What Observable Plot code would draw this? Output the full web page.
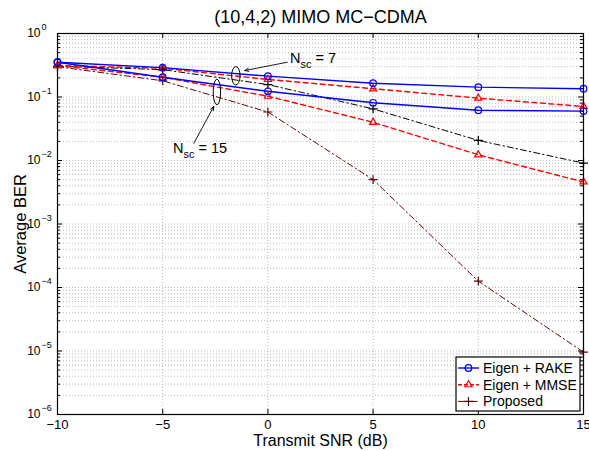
<!DOCTYPE html>
<html><head><meta charset="utf-8">
<script src="https://cdn.jsdelivr.net/npm/d3@7"></script>
<script src="https://cdn.jsdelivr.net/npm/@observablehq/plot@0.6"></script>
<style>
body{margin:0;background:#fff;}
#chart svg{display:block;}
</style></head><body><div id="chart"></div>
<script>
// ---- data ----
const snr = [-10, -5, 0, 5, 10, 15];
const rakeNsc7  = [0.353, 0.290, 0.213, 0.165, 0.143, 0.135];
const rakeNsc15 = [0.353, 0.205, 0.123, 0.081, 0.062, 0.060];
const mmseNsc7  = [0.313, 0.284, 0.189, 0.135, 0.096, 0.071];
const mmseNsc15 = [0.313, 0.205, 0.103, 0.040, 0.0123, 0.0046];
const propNsc7  = [0.305, 0.270, 0.157, 0.065, 0.0207, 0.0091];
const propNsc15 = [0.300, 0.180, 0.058, 0.0050, 0.000126, 0.0000096];
const xTicks = [-10, -5, 0, 5, 10, 15];
const yExponents = [-6, -5, -4, -3, -2, -1, 0];
const legendLabels = ["Eigen + RAKE", "Eigen + MMSE", "Proposed"];
const titleText = "(10,4,2) MIMO MC\u2212CDMA";
const xLabel = "Transmit SNR (dB)";
const yLabel = "Average BER";
// annotation anchors (data coordinates)
const annoEllipses = [{x: -1.50, y: 0.212}, {x: -2.40, y: 0.118}];
const annoArrows = [
  {x1: 0.92, y1: 0.353, x2: -1.10, y2: 0.261},
  {x1: -3.52, y1: 0.0187, x2: -2.57, y2: 0.0709}
];
const annoLabels = [{x: 1.07, y: 0.337, n: "7"}, {x: -4.49, y: 0.0129, n: "15"}];

// ---- derived tables ----
const toRows = (vals) => snr.map((x, i) => ({x, y: vals[i]}));
const BLUE = "#0000ff", RED = "#ff0000", BLACK = "#000000", BROWN = "#5a0808";
const FONT = "'Liberation Sans', Arial, Helvetica, sans-serif";
const decades = yExponents.map(e => Math.pow(10, e));
const minors = [];
yExponents.slice(0, -1).forEach(e => { for (let k = 2; k <= 9; k++) minors.push(k * Math.pow(10, e)); });
const gridY = decades.slice(1, -1).concat(minors);
const gridX = xTicks.slice(1, -1);

const W = 589, H = 451, ML = 57, MR = 6, MT = 33, MB = 37;
const FW = W - ML - MR, FH = H - MT - MB;

const lineMarks = (vals, stroke, dash, sw) => Plot.line(toRows(vals), {x: "x", y: "y", stroke, strokeWidth: sw, strokeDasharray: dash});

const plot = Plot.plot({
  width: W, height: H,
  marginLeft: ML, marginRight: MR, marginTop: MT, marginBottom: MB,
  style: {fontFamily: FONT, fontSize: "13px", background: "#fff", overflow: "visible"},
  x: {domain: [-10, 15], axis: null},
  y: {type: "log", domain: [1e-6, 1], axis: null},
  marks: [
    Plot.ruleY(gridY, {stroke: "#a8a8a8", strokeDasharray: "1,2", strokeWidth: 0.8}),
    Plot.ruleX(gridX, {stroke: "#a8a8a8", strokeDasharray: "1,2", strokeWidth: 0.8}),
    // tick marks (inside)
    Plot.ruleY(decades, {stroke: BLACK, insetRight: FW - 5}),
    Plot.ruleY(decades, {stroke: BLACK, insetLeft: FW - 5}),
    Plot.ruleY(minors, {stroke: BLACK, insetRight: FW - 3}),
    Plot.ruleY(minors, {stroke: BLACK, insetLeft: FW - 3}),
    Plot.ruleX(xTicks, {stroke: BLACK, insetTop: FH - 5}),
    Plot.ruleX(xTicks, {stroke: BLACK, insetBottom: FH - 5}),
    // series
    lineMarks(propNsc15, BROWN, "6,3,1.5,3", 1),
    lineMarks(propNsc7, BLACK, "6,3,1.5,3", 1),
    lineMarks(mmseNsc15, RED, "5,3.5", 1.4),
    lineMarks(mmseNsc7, RED, "5,3.5", 1.4),
    lineMarks(rakeNsc15, BLUE, null, 1.4),
    lineMarks(rakeNsc7, BLUE, null, 1.4),
    Plot.dot(toRows(propNsc15), {x: "x", y: "y", symbol: "plus", r: 3, stroke: BROWN, strokeWidth: 1.2}),
    Plot.dot(toRows(propNsc7), {x: "x", y: "y", symbol: "plus", r: 3, stroke: BLACK, strokeWidth: 1.2}),
    Plot.dot(toRows(mmseNsc15), {x: "x", y: "y", symbol: "triangle2", r: 3.4, stroke: RED, fill: "none", strokeWidth: 1.2}),
    Plot.dot(toRows(mmseNsc7), {x: "x", y: "y", symbol: "triangle2", r: 3.4, stroke: RED, fill: "none", strokeWidth: 1.2}),
    Plot.dot(toRows(rakeNsc15), {x: "x", y: "y", r: 3.3, stroke: BLUE, fill: "none", strokeWidth: 1.2}),
    Plot.dot(toRows(rakeNsc7), {x: "x", y: "y", r: 3.3, stroke: BLUE, fill: "none", strokeWidth: 1.2}),
    Plot.frame({stroke: BLACK, strokeWidth: 1.2}),
    // annotation arrows
    Plot.arrow(annoArrows, {x1: "x1", y1: "y1", x2: "x2", y2: "y2", stroke: BLACK, strokeWidth: 0.9, headLength: 7, headAngle: 45}),
    // tick labels
    Plot.text(xTicks, {x: d => d, frameAnchor: "bottom", dy: 10, lineAnchor: "middle", fontSize: 13,
      text: d => d < 0 ? "\u2212" + Math.abs(d) : String(d)}),
    Plot.text(decades, {y: d => d, frameAnchor: "left", dx: -17, dy: 0, textAnchor: "end", lineAnchor: "middle", fontSize: 12, text: () => "10"}),
    Plot.text(decades, {y: d => d, frameAnchor: "left", dx: -16, dy: -6, textAnchor: "start", lineAnchor: "middle", fontSize: 9,
      text: (d, i) => yExponents[i] < 0 ? "\u2212" + Math.abs(yExponents[i]) : String(yExponents[i])}),
    // titles
    Plot.text([titleText], {frameAnchor: "top", dy: -16, lineAnchor: "middle", fontSize: 18}),
    Plot.text([xLabel], {frameAnchor: "bottom", dy: 26, lineAnchor: "middle", fontSize: 16}),
    Plot.text([yLabel], {frameAnchor: "left", dx: -37, rotate: -90, textAnchor: "middle", lineAnchor: "middle", fontSize: 16.5})
  ]
});

document.getElementById("chart").appendChild(plot);

// ---- annotations & legend, positioned via Plot's scales ----
const sx = plot.scale("x"), sy = plot.scale("y");
const svg = d3.select(plot);
const ann = svg.append("g").attr("font-family", FONT).attr("text-anchor", "start");
const ellSize = [[4.2, 9.2], [3.7, 12.8]];
annoEllipses.forEach((e, i) => {
  ann.append("ellipse").attr("cx", sx.apply(e.x)).attr("cy", sy.apply(e.y))
    .attr("rx", ellSize[i][0]).attr("ry", ellSize[i][1])
    .attr("fill", "none").attr("stroke", BLACK).attr("stroke-width", 1);
});
annoLabels.forEach(l => {
  const t = ann.append("text").attr("x", sx.apply(l.x)).attr("y", sy.apply(l.y)).attr("font-size", 14.5);
  t.append("tspan").text("N");
  t.append("tspan").attr("font-size", 11).attr("dy", 5).text("sc");
  t.append("tspan").attr("dy", -5).text(" = " + l.n);
});

const lg = svg.append("g").attr("font-family", FONT).attr("text-anchor", "start");
const LX = 456, LY = 357, LW = 124, LH = 54;
lg.append("rect").attr("x", LX).attr("y", LY).attr("width", LW).attr("height", LH)
  .attr("fill", "#fff").attr("stroke", BLACK).attr("stroke-width", 1.2);
const legendStyles = [
  {stroke: BLUE, dash: null, sym: d3.symbolCircle, size: Math.PI * 3.3 * 3.3, sw: 1.4},
  {stroke: RED, dash: "4,2", sym: d3.symbolTriangle2, size: Math.PI * 3.4 * 3.4, sw: 1.4},
  {stroke: BROWN, dash: "6,3,1.5,3", sym: d3.symbolPlus, size: Math.PI * 9, sw: 1}
];
legendLabels.forEach((label, i) => {
  const cy = LY + 11 + i * 16.7;
  const s = legendStyles[i];
  lg.append("line").attr("x1", LX + 2).attr("x2", LX + 23).attr("y1", cy).attr("y2", cy)
    .attr("stroke", s.stroke).attr("stroke-width", s.sw).attr("stroke-dasharray", s.dash);
  lg.append("path").attr("d", d3.symbol(s.sym, s.size)()).attr("transform", `translate(${LX + 12.5},${cy})`)
    .attr("fill", "none").attr("stroke", s.stroke).attr("stroke-width", 1.2);
  lg.append("text").attr("x", LX + 27).attr("y", cy).attr("dy", "0.35em").attr("font-size", 14).text(label);
});
</script></body></html>
